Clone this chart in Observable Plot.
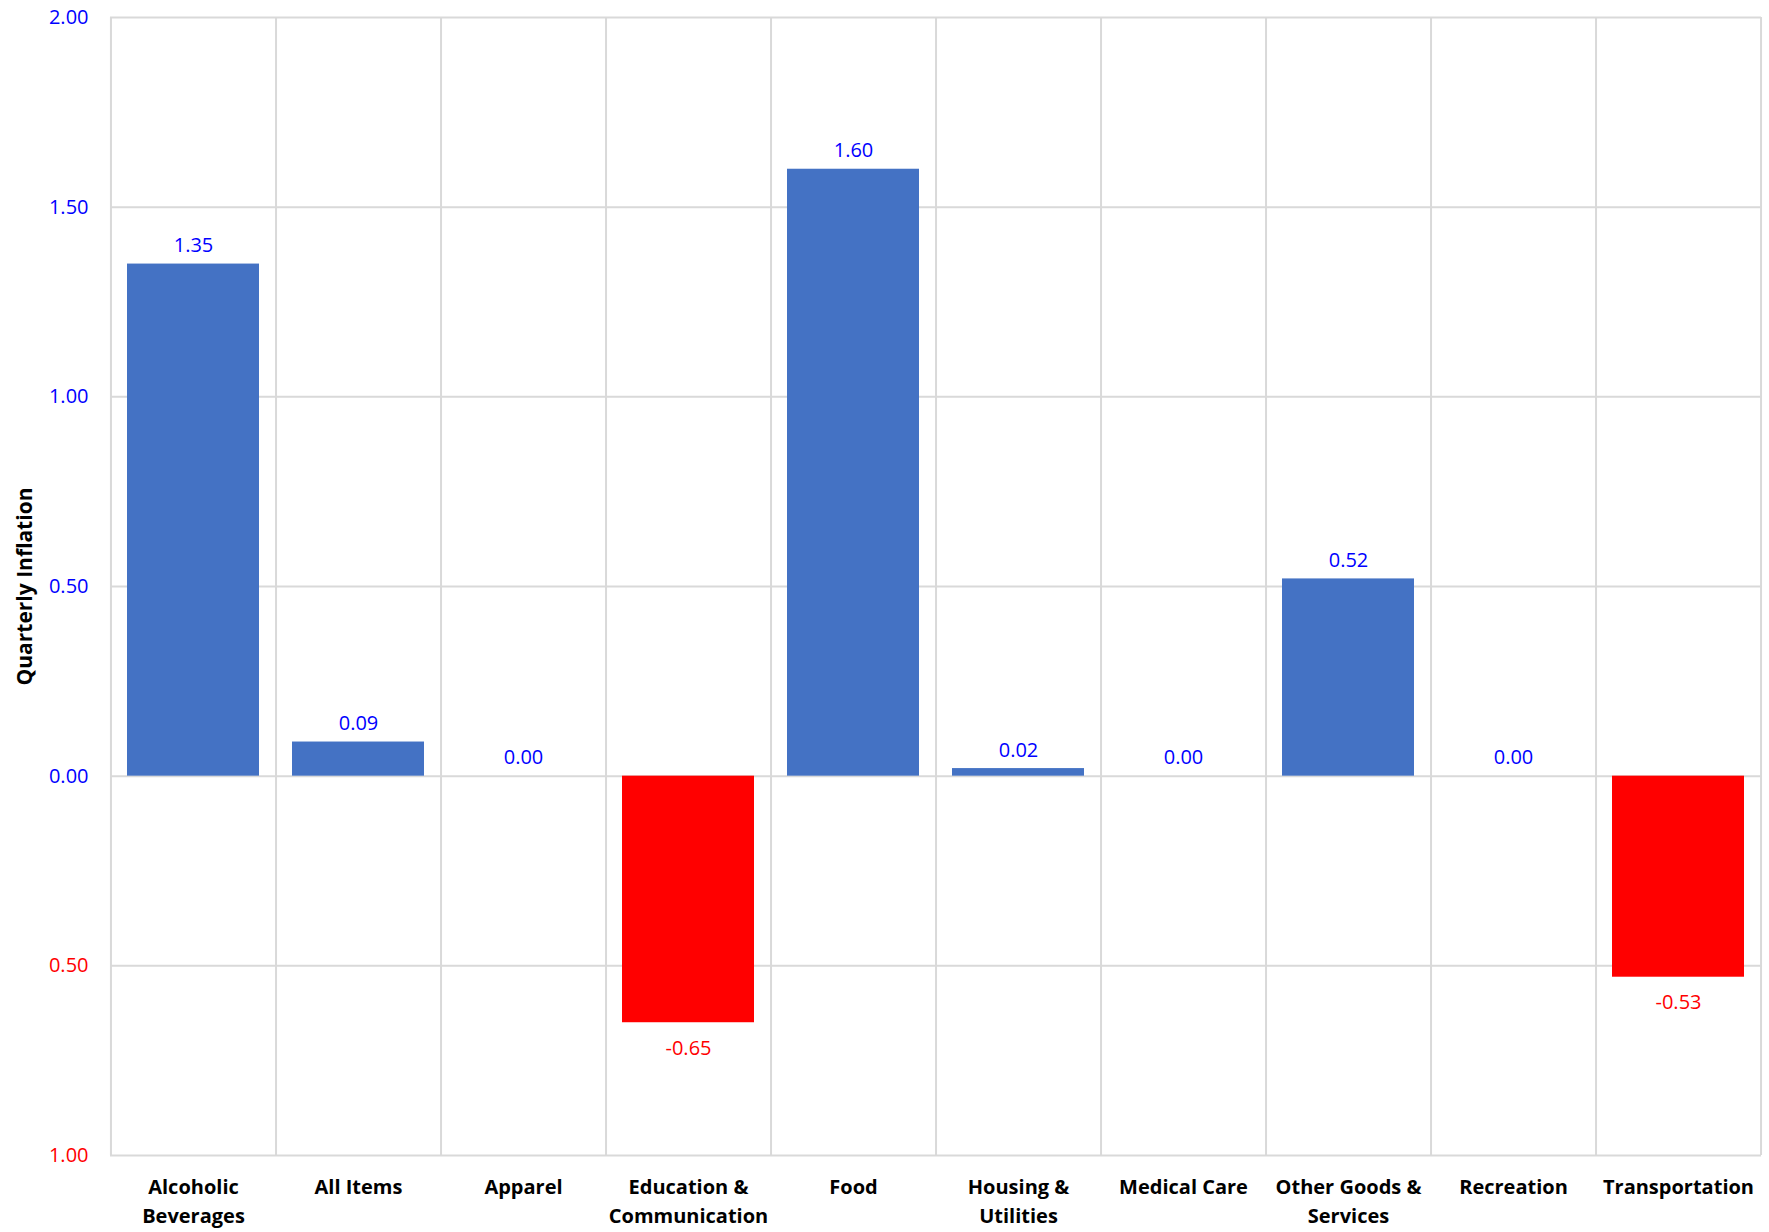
<!DOCTYPE html>
<html><head><meta charset="utf-8">
<script src="https://cdn.jsdelivr.net/npm/d3@7"></script>
<script src="https://cdn.jsdelivr.net/npm/@observablehq/plot@0.6"></script>
<style>body{margin:0;background:#fff}</style>
</head><body><div id="c"></div>
<script>
const categories = ["Alcoholic Beverages","All Items","Apparel","Education & Communication","Food","Housing & Utilities","Medical Care","Other Goods & Services","Recreation","Transportation"];
const labels = ["Alcoholic\nBeverages","All Items","Apparel","Education &\nCommunication","Food","Housing &\nUtilities","Medical Care","Other Goods &\nServices","Recreation","Transportation"];
const values = [1.35,0.09,0.00,-0.65,1.60,0.02,0.00,0.52,0.00,-0.53];
const yTicks = [-1,-0.5,0,0.5,1,1.5,2];
const data = categories.map((c,i)=>({c, v:values[i]}));
const W=1769, H=1232, mL=110, mR=8;
const step=(W-mL-mR)/(10-0.2+0.2);
const font='"Open Sans", sans-serif';
const plot = Plot.plot({
  width:W, height:H, marginLeft:mL, marginRight:mR, marginTop:17, marginBottom:77,
  style:{fontFamily:font, background:"#fff"},
  x:{domain:categories, paddingInner:0.2, paddingOuter:0.1, label:null},
  y:{domain:[-1,2], label:null},
  marks:[
    Plot.ruleY(yTicks,{stroke:"#d9d9d9", strokeWidth:2}),
    Plot.ruleX(categories,{x:d=>d, dx:step/2, stroke:"#d9d9d9", strokeWidth:2}),
    Plot.ruleX([categories[0]],{x:d=>d, dx:-step/2, stroke:"#d9d9d9", strokeWidth:2}),
    Plot.barY(data,{x:"c", y:"v", fill:d=>d.v<0?"#ff0000":"#4472c4"}),
    Plot.text(data.filter(d=>d.v>=0),{x:"c", y:"v", text:d=>d.v.toFixed(2), dy:-12, lineAnchor:"bottom", fontSize:20, fill:"#0000ff"}),
    Plot.text(data.filter(d=>d.v<0),{x:"c", y:"v", text:d=>d.v.toFixed(2), dy:18, lineAnchor:"top", fontSize:20, fill:"#ff0000"}),
    Plot.axisX({tickSize:0, tickPadding:18, fontSize:20, fontWeight:"bold", fill:"#000", tickFormat:d=>labels[categories.indexOf(d)], lineHeight:1.45, label:null}),
    Plot.axisY({ticks:yTicks, tickSize:0, tickPadding:22, fontSize:20, tickFormat:d=>Math.abs(d).toFixed(2), fill:d=>d<0?"#ff0000":"#0000ff", label:null}),
    Plot.text(["Quarterly Inflation"],{frameAnchor:"left", textAnchor:"middle", dx:-mL+25, rotate:-90, fontSize:21, fontWeight:"bold", fill:"#000"})
  ]
});
document.getElementById("c").appendChild(plot);
</script></body></html>
